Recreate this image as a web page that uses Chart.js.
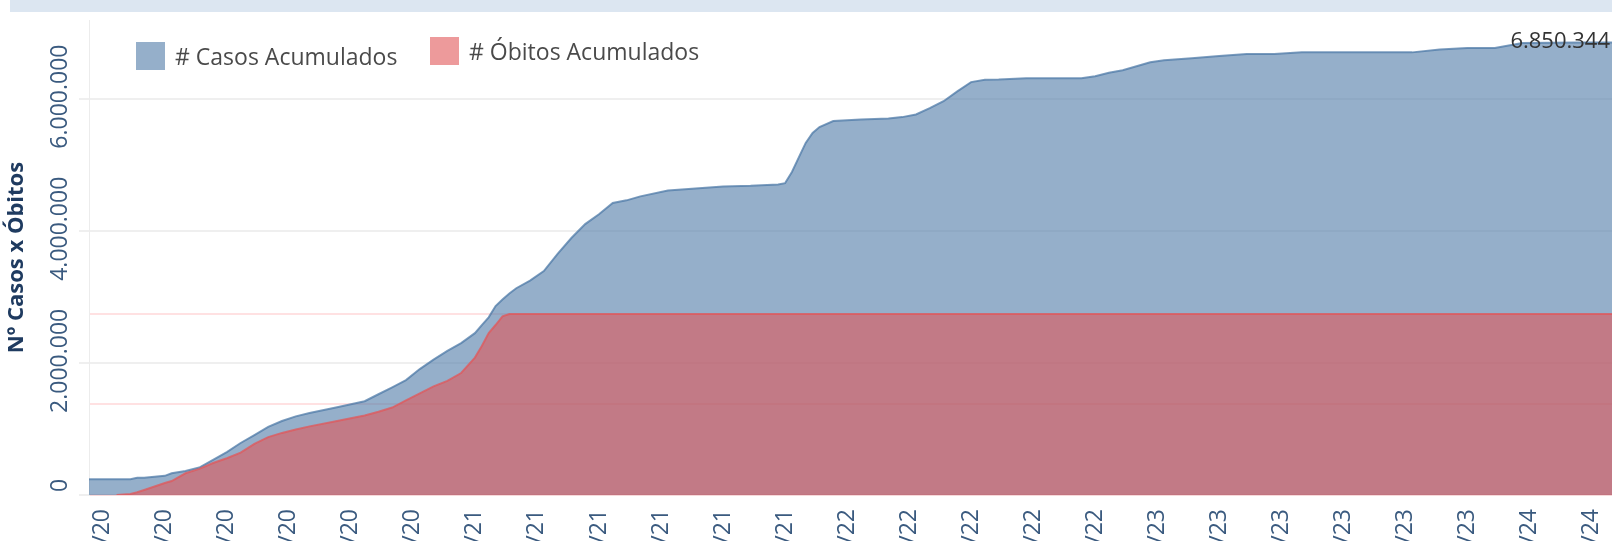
<!DOCTYPE html>
<html lang="pt-BR">
<head>
<meta charset="utf-8">
<title>Nº Casos x Óbitos</title>
<script src="https://cdn.jsdelivr.net/npm/chart.js@4.4.1/dist/chart.umd.min.js"></script>
<style>
  html, body { margin: 0; padding: 0; background: #fff; overflow: hidden; }
  body { width: 1612px; height: 541px; position: relative; font-family: 'Open Sans', sans-serif; }
  .topbar { position: absolute; left: 10px; top: 0; right: 0; height: 12px; background: #dce6f1; z-index: 2; }
  .chart-box { position: absolute; left: 0; top: 0; width: 1612px; height: 600px; }
  .legend-item { position: absolute; display: flex; align-items: center; height: 28px; line-height: 28px;
                 font-size: 23px; color: #4a4a4a; white-space: nowrap; z-index: 2; }
  .legend-item .box { display: inline-block; width: 29px; height: 28px; margin-right: 10px; }
</style>
</head>
<body>
<div class="topbar"></div>
<div class="chart-box"><canvas id="myChart"></canvas></div>
<div id="legend"></div>
<script>
'use strict';

// semanas epidemiologicas (inicio no domingo)
var dates = [
  '2020-01-19', '2020-02-16', '2020-03-01', '2020-03-08', '2020-03-15', '2020-04-05', '2020-04-12', '2020-04-26',
  '2020-05-10', '2020-05-24', '2020-06-07', '2020-06-21', '2020-07-05', '2020-07-19', '2020-08-02', '2020-08-16',
  '2020-08-30', '2020-09-27', '2020-10-25', '2020-11-08', '2020-11-22', '2020-12-06', '2020-12-20', '2021-01-03',
  '2021-01-17', '2021-01-31', '2021-02-14', '2021-02-21', '2021-02-28', '2021-03-07', '2021-03-14', '2021-03-21',
  '2021-03-28', '2021-04-11', '2021-04-25', '2021-05-09', '2021-05-23', '2021-06-06', '2021-06-20', '2021-07-04',
  '2021-07-18', '2021-08-01', '2021-08-29', '2021-09-26', '2021-10-24', '2021-11-21', '2021-12-19', '2021-12-26',
  '2022-01-02', '2022-01-09', '2022-01-16', '2022-01-23', '2022-01-30', '2022-02-13', '2022-03-13', '2022-04-10',
  '2022-04-24', '2022-05-08', '2022-05-22', '2022-06-05', '2022-06-19', '2022-07-03', '2022-07-17', '2022-07-31',
  '2022-08-28', '2022-09-25', '2022-10-23', '2022-11-06', '2022-11-20', '2022-12-04', '2022-12-18', '2023-01-01',
  '2023-01-15', '2023-02-12', '2023-03-12', '2023-04-09', '2023-05-07', '2023-06-04', '2023-07-02', '2023-07-30',
  '2023-08-27', '2023-09-24', '2023-10-22', '2023-11-19', '2023-12-17', '2024-01-14', '2024-02-11', '2024-03-10',
  '2024-04-07', '2024-04-14'
];

var casos = [
  237500, 237500, 237500, 262000, 262000, 290000, 328000, 363000,
  416000, 530000, 650000, 787000, 908000, 1030000, 1120000, 1190000,
  1240000, 1327000, 1420000, 1525000, 1630000, 1740000, 1906000, 2050000,
  2180000, 2300000, 2450000, 2570000, 2690000, 2860000, 2960000, 3050000,
  3130000, 3245000, 3390000, 3650000, 3890000, 4100000, 4250000, 4420000,
  4460000, 4520000, 4610000, 4640000, 4670000, 4680000, 4700000, 4720000,
  4890000, 5110000, 5330000, 5480000, 5570000, 5660000, 5685000, 5700000,
  5720000, 5760000, 5855000, 5960000, 6110000, 6250000, 6285000, 6290000,
  6310000, 6310000, 6310000, 6340000, 6390000, 6430000, 6490000, 6550000,
  6580000, 6610000, 6646000, 6676000, 6676000, 6700000, 6700000, 6700000,
  6700000, 6700000, 6743000, 6767000, 6767000, 6840000, 6845000, 6848000,
  6850000, 6850344
];

var obitos = [
  null, 0, 600, 1500, 2760, 6600, 7700, 12000,
  14400, 17700, 20300, 23400, 28200, 32000, 34300, 36200,
  37900, 40900, 43900, 46000, 48300, 52300, 56100, 60000,
  63000, 67400, 75900, 82300, 89500, 93900, 98700, 100000,
  100000, 100000, 100000, 100000, 100000, 100000, 100000, 100000,
  100000, 100000, 100000, 100000, 100000, 100000, 100000, 100000,
  100000, 100000, 100000, 100000, 100000, 100000, 100000, 100000,
  100000, 100000, 100000, 100000, 100000, 100000, 100000, 100000,
  100000, 100000, 100000, 100000, 100000, 100000, 100000, 100000,
  100000, 100000, 100000, 100000, 100000, 100000, 100000, 100000,
  100000, 100000, 100000, 100000, 100000, 100000, 100000, 100000,
  100000, 100000
];

// marcas do eixo x (a cada 9 semanas)
var tickDates = [
  '2020-02-02', '2020-04-05', '2020-06-07', '2020-08-09', '2020-10-11', '2020-12-13',
  '2021-02-14', '2021-04-18', '2021-06-20', '2021-08-22', '2021-10-24', '2021-12-26',
  '2022-02-27', '2022-05-01', '2022-07-03', '2022-09-04', '2022-11-06',
  '2023-01-08', '2023-03-12', '2023-05-14', '2023-07-16', '2023-09-17', '2023-11-19',
  '2024-01-21', '2024-03-24'
];
var yTicks = [0, 2000000, 4000000, 6000000];
var y2Ticks = [0, 50000, 100000];

var blueFill = 'rgba(78,121,167,0.6)';
var blueLine = 'rgba(78,121,167,0.75)';
var redFill = 'rgba(225,87,89,0.6)';
var redLine = 'rgba(225,87,89,0.75)';

function toDay(s) {
  var p = s.split('-').map(Number);
  return Date.UTC(p[0], p[1] - 1, p[2]) / 864e5;
}
function fmtNum(v) {
  return String(Math.round(v)).replace(/\B(?=(\d{3})+(?!\d))/g, '.');
}
function fmtDate(s) {
  var p = s.split('-');
  return p[2] + '/' + p[1] + '/' + p[0].slice(2);
}

var tickLookup = {};
tickDates.forEach(function (s) { tickLookup[toDay(s)] = fmtDate(s); });

Chart.defaults.font.family = "'Open Sans', sans-serif";

// rotulos do eixo y, girados e centrados na marca
var yTickLabels = {
  id: 'yTickLabels',
  afterDraw: function (chart) {
    var s = chart.scales.y;
    var c = chart.ctx;
    c.save();
    c.font = "23px 'Open Sans', sans-serif";
    c.fillStyle = '#3a5a7f';
    c.textAlign = 'center';
    c.textBaseline = 'middle';
    s.ticks.forEach(function (t) {
      var txt = fmtNum(t.value);
      var half = c.measureText(txt).width / 2;
      var py = Math.min(s.getPixelForValue(t.value) - 2, s.bottom - half - 3);
      c.save();
      c.translate(s.right - 29, py);
      c.rotate(-Math.PI / 2);
      c.fillText(txt, 0, 0);
      c.restore();
    });
    c.restore();
  }
};

// valor do ultimo ponto
var lastLabel = {
  id: 'lastLabel',
  afterDraw: function (chart) {
    var meta = chart.getDatasetMeta(0);
    var pt = meta.data[meta.data.length - 1];
    var c = chart.ctx;
    c.save();
    c.font = "22px 'Open Sans', sans-serif";
    c.fillStyle = '#333';
    c.textAlign = 'right';
    c.textBaseline = 'alphabetic';
    c.fillText(fmtNum(casos[casos.length - 1]), pt.x - 2, pt.y + 6);
    c.restore();
  }
};

var ctx = document.getElementById('myChart').getContext('2d');
var chart = new Chart(ctx, {
  type: 'line',
  data: {
    datasets: [{
      label: '# Casos Acumulados',
      data: dates.map(function (d, i) { return { x: toDay(d), y: casos[i] }; }),
      yAxisID: 'y',
      order: 2,
      fill: 'origin',
      backgroundColor: blueFill,
      borderColor: blueLine,
      borderWidth: 2,
      pointRadius: 0,
      tension: 0
    },
    {
      label: '# Óbitos Acumulados',
      data: dates.map(function (d, i) { return { x: toDay(d), y: obitos[i] }; }),
      yAxisID: 'y2',
      order: 1,
      fill: 'origin',
      backgroundColor: redFill,
      borderColor: redLine,
      borderWidth: 2,
      pointRadius: 0,
      tension: 0
    }]
  },
  options: {
    responsive: true,
    maintainAspectRatio: false,
    animation: false,
    layout: { autoPadding: false, padding: { top: 20, right: 0, bottom: 0, left: 0 } },
    plugins: { legend: { display: false }, tooltip: { enabled: false } },
    scales: {
      x: {
        type: 'linear',
        min: toDay(dates[0]),
        max: toDay(dates[dates.length - 1]),
        afterBuildTicks: function (s) { s.ticks = tickDates.map(function (d) { return { value: toDay(d) }; }); },
        afterFit: function (s) { s.height = 105; s.paddingLeft = 0; s.paddingRight = 0; },
        grid: { display: false, drawTicks: false },
        border: { display: false },
        ticks: {
          autoSkip: false, minRotation: 90, maxRotation: 90, padding: 14,
          color: '#3a5a7f', font: { size: 23 },
          callback: function (v) { return tickLookup[v] || ''; }
        }
      },
      y: {
        position: 'left',
        min: 0,
        max: 7190000,
        afterBuildTicks: function (s) { s.ticks = yTicks.map(function (v) { return { value: v }; }); },
        afterFit: function (s) { s.width = 89; },
        grid: { color: '#efefef', lineWidth: 2, tickLength: 10 },
        border: { color: '#ececec', width: 1 },
        ticks: { display: false },
        title: {
          display: true, text: 'Nº Casos x Óbitos', color: '#1f3b60',
          font: { size: 22, weight: 'bold' }, padding: { top: 4, bottom: 0 }
        }
      },
      y2: {
        position: 'right',
        min: 0,
        max: 262400,
        z: 1,
        afterBuildTicks: function (s) { s.ticks = y2Ticks.map(function (v) { return { value: v }; }); },
        afterFit: function (s) { s.width = 0; s.paddingTop = 0; s.paddingBottom = 0; },
        grid: { color: 'rgba(255,196,198,0.5)', lineWidth: 2, drawTicks: false },
        border: { display: false },
        ticks: { display: false }
      }
    }
  },
  plugins: [yTickLabels, lastLabel]
});

// legenda em html, dentro da area do grafico
var legendPos = [{ left: 136, top: 42 }, { left: 430, top: 37 }];
var legendEl = document.getElementById('legend');
chart.data.datasets.forEach(function (ds, i) {
  var item = document.createElement('div');
  item.className = 'legend-item';
  item.style.left = legendPos[i].left + 'px';
  item.style.top = legendPos[i].top + 'px';
  var box = document.createElement('span');
  box.className = 'box';
  box.style.background = ds.backgroundColor;
  item.appendChild(box);
  item.appendChild(document.createTextNode(ds.label));
  legendEl.appendChild(item);
});
</script>
</body>
</html>
